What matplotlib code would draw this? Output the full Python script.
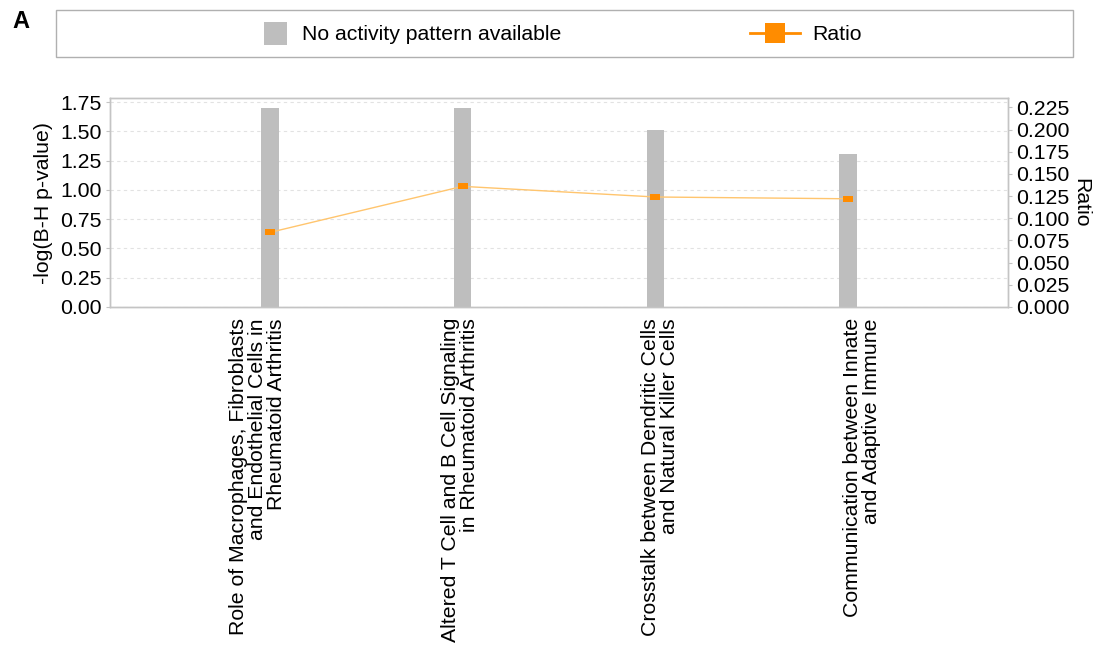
import matplotlib
matplotlib.use("Agg")
import matplotlib.pyplot as plt
import matplotlib.transforms as mtransforms
from matplotlib.patches import Rectangle
from matplotlib.lines import Line2D
import numpy as np

plt.rcParams['font.family'] = ['Liberation Sans', 'DejaVu Sans']

# Canonical pathways
pathways = [
    "Role of Macrophages, Fibroblasts\nand Endothelial Cells in\nRheumatoid Arthritis",
    "Altered T Cell and B Cell Signaling\nin Rheumatoid Arthritis",
    "Crosstalk between Dendritic Cells\nand Natural Killer Cells",
    "Communication between Innate\nand Adaptive Immune",
]
neg_log_p = [1.70, 1.70, 1.51, 1.31]
ratio = [0.084, 0.136, 0.124, 0.122]

left_ticks = [0.00, 0.25, 0.50, 0.75, 1.00, 1.25, 1.50, 1.75]
right_ticks = [0.000, 0.025, 0.050, 0.075, 0.100, 0.125, 0.150, 0.175, 0.200, 0.225]

W, H = 1107, 649
fig = plt.figure(figsize=(W / 100, H / 100), dpi=100)

BAR_COLOR = "#bebebe"
LINE_COLOR = "#ffc56e"
MARK_COLOR = "#ff8c00"
SPINE_COLOR = "#c4c4c4"
FS = 15.3

def fx(px):
    return px / W

def fy(py):
    return 1 - py / H

ax = fig.add_axes([fx(110), fy(307), fx(1008) - fx(110), fy(98) - fy(307)])
ax2 = ax.twinx()

x = np.arange(len(pathways))
ax.bar(x, neg_log_p, width=0.093, color=BAR_COLOR, zorder=2)
ax.set_xlim(-0.827, len(pathways) - 1 + 0.827)
ax.set_ylim(0, 1.786)
ax.set_yticks(left_ticks)
ax.set_yticklabels([f"{v:.2f}" for v in left_ticks])
ax.yaxis.grid(True, color="#e2e2e2", linestyle=(0, (3, 3)), linewidth=0.8, zorder=0)
ax.set_axisbelow(True)
ax.set_ylabel("-log(B-H p-value)", fontsize=FS, labelpad=5)

ax.set_xticks(x)
ax.set_xticklabels(pathways, rotation=90, ha="center", va="top",
                   multialignment="right", fontsize=FS, linespacing=1.0)
ax.tick_params(axis="x", length=0, pad=8)
ax.tick_params(axis="y", length=3, color=SPINE_COLOR, labelsize=FS, pad=3)

# slight horizontal shifts of the category labels
shifts = [-12, -3, 5, 14]
for lbl, dx in zip(ax.get_xticklabels(), shifts):
    lbl.set_transform(lbl.get_transform() +
                      mtransforms.ScaledTranslation(dx / 100, 0, fig.dpi_scale_trans))

marker_rect = [(-1.5, -1), (1.5, -1), (1.5, 1), (-1.5, 1), (-1.5, -1)]
ax2.plot(x, ratio, color=LINE_COLOR, linewidth=1.0, zorder=3)
ax2.plot(x, ratio, linestyle="none", marker=marker_rect, markersize=7,
         markerfacecolor=MARK_COLOR, markeredgecolor=MARK_COLOR, markeredgewidth=0, zorder=4)
ax2.set_ylim(0, 0.2356)
ax2.set_yticks(right_ticks)
ax2.set_yticklabels([f"{v:.3f}" for v in right_ticks])
ax2.tick_params(axis="y", length=3, color=SPINE_COLOR, labelsize=FS, pad=3)
ax2.set_ylabel("Ratio", fontsize=FS, rotation=270, labelpad=15)

for a in (ax, ax2):
    for s in a.spines.values():
        s.set_color(SPINE_COLOR)
        s.set_linewidth(1.0)

# Legend box
fig.patches.append(Rectangle((fx(56), fy(57)), fx(1073) - fx(56), fy(10) - fy(57),
                             transform=fig.transFigure, facecolor="none",
                             edgecolor="#b0b0b0", linewidth=1.0))
fig.patches.append(Rectangle((fx(264), fy(45)), fx(23), fy(22) - fy(45),
                             transform=fig.transFigure, facecolor=BAR_COLOR,
                             edgecolor="none"))
fig.text(fx(302), fy(34), "No activity pattern available", fontsize=FS,
         ha="left", va="center")
fig.lines.append(Line2D([fx(750), fx(800)], [fy(33), fy(33)], transform=fig.transFigure,
                        color=MARK_COLOR, linewidth=2))
fig.patches.append(Rectangle((fx(765), fy(43)), fx(20), fy(23) - fy(43),
                             transform=fig.transFigure, facecolor=MARK_COLOR,
                             edgecolor="none"))
fig.text(fx(812), fy(34), "Ratio", fontsize=FS, ha="left", va="center")

fig.text(fx(12), fy(21), "A", fontsize=17, fontweight="bold", ha="left", va="center")

fig.savefig("out.png", dpi=100)
